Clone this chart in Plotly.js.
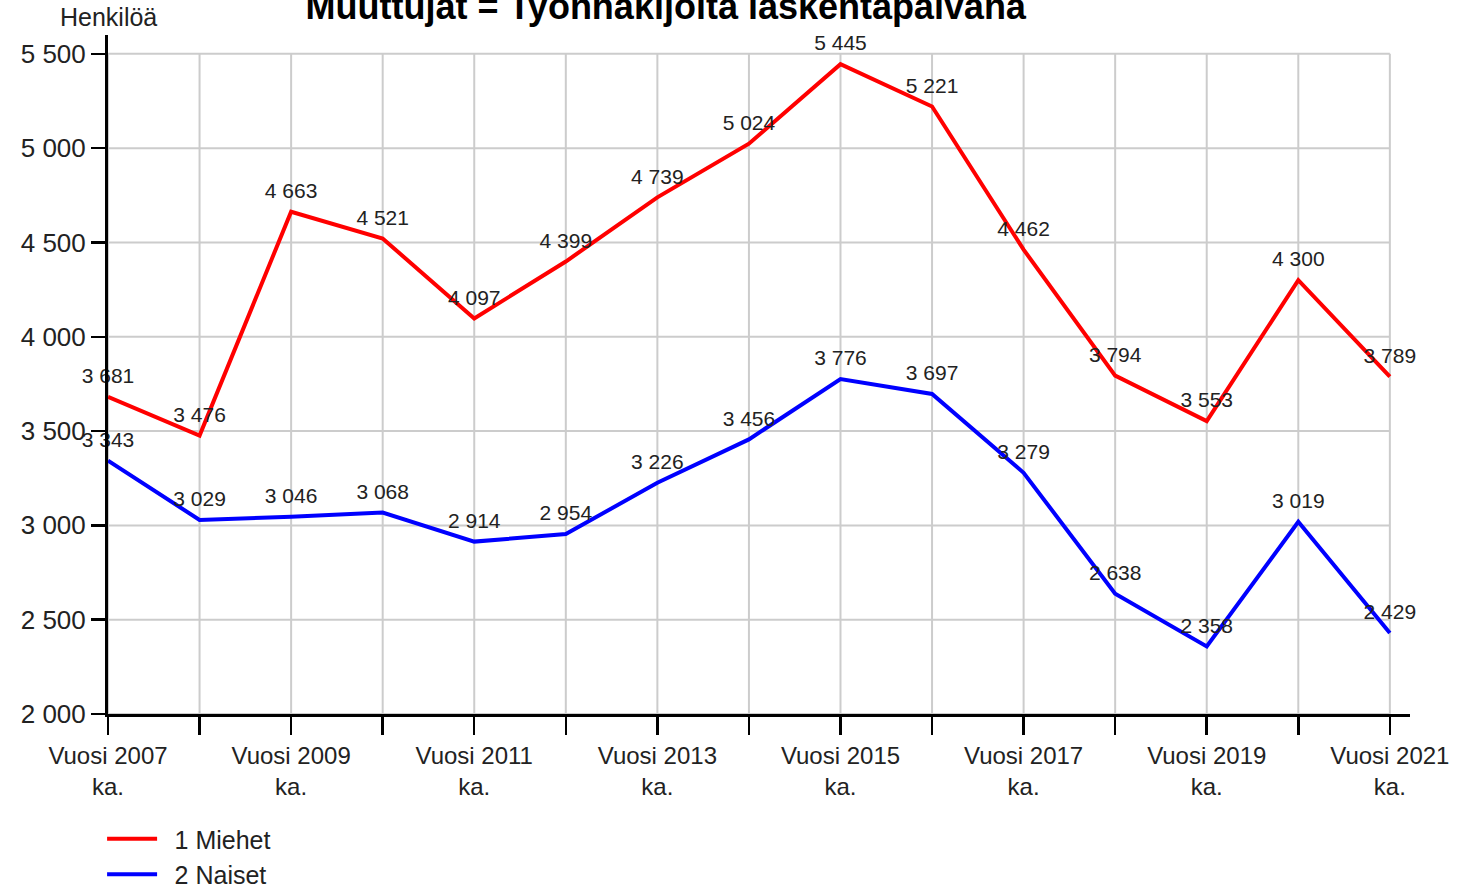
<!DOCTYPE html>
<html>
<head>
<meta charset="utf-8">
<script src="https://cdn.plot.ly/plotly-3.0.1.min.js"></script>
<style>body{margin:0;background:#fff}#chart{width:1478px;height:884px}</style>
</head>
<body>
<div id="chart"></div>
<script>
const years = ["2007","2008","2009","2010","2011","2012","2013","2014","2015","2016","2017","2018","2019","2020","2021"];
const categories = years.map(y => "Vuosi " + y + " ka.");
const tickLabels = years.map((y, i) => i % 2 === 0 ? "Vuosi " + y + "<br>ka." : "");
const miehet = [3681, 3476, 4663, 4521, 4097, 4399, 4739, 5024, 5445, 5221, 4462, 3794, 3553, 4300, 3789];
const naiset = [3343, 3029, 3046, 3068, 2914, 2954, 3226, 3456, 3776, 3697, 3279, 2638, 2358, 3019, 2429];
const seriesNames = ["1 Miehet", "2 Naiset"];
const yTicks = [2000, 2500, 3000, 3500, 4000, 4500, 5000, 5500];
const titleText = "Muuttujat = Työnhakijoita laskentapäivänä";
const yTitle = "Henkilöä";

const fmt = v => String(v).replace(/\B(?=(\d{3})+(?!\d))/g, " ");
const xIdx = categories.map((c, i) => i);
const FONT = "Liberation Sans, Arial, sans-serif";

function trace(vals, name, color) {
  return {
    x: xIdx, y: vals, name: "\u2002" + name, type: "scatter", mode: "lines+markers+text",
    line: {color: color, width: 4},
    marker: {size: 12, color: "rgba(0,0,0,0)", line: {width: 0}},
    text: vals.map(fmt), textposition: "top center",
    textfont: {family: FONT, size: 21, color: "#222"},
    cliponaxis: false, hoverinfo: "y"
  };
}

const data = [trace(miehet, seriesNames[0], "#ff0000"), trace(naiset, seriesNames[1], "#0000ff")];

const gridColor = "#cccccc";
const shapes = [];
yTicks.forEach(v => shapes.push({type: "line", layer: "below", xref: "x", yref: "y", x0: 0, x1: xIdx.length - 1, y0: v, y1: v, line: {color: gridColor, width: 2}}));
xIdx.forEach(i => shapes.push({type: "line", layer: "below", xref: "x", yref: "y", x0: i, x1: i, y0: yTicks[0], y1: yTicks[yTicks.length - 1], line: {color: gridColor, width: 2}}));

const layout = {
  width: 1478, height: 884,
  margin: {l: 108, r: 68, t: 35, b: 170, autoexpand: false},
  paper_bgcolor: "#fff", plot_bgcolor: "#fff",
  font: {family: FONT, color: "#222"},
  title: {text: "<b>" + titleText + "</b>", font: {size: 36, color: "#000", family: FONT}, x: 0.4505, xanchor: "center", y: 0.993, yanchor: "middle", yref: "container"},
  showlegend: true,
  legend: {x: 108 / 1478 - 0.004, xref: "container", xanchor: "left", y: (884 - 816) / 884, yref: "container", yanchor: "top", orientation: "v", font: {size: 25, color: "#222"}, tracegroupgap: 0, itemwidth: 50},
  shapes: shapes,
  xaxis: {
    type: "linear", range: [0, 14.22], automargin: false,
    tickvals: xIdx, ticktext: tickLabels,
    showgrid: false,
    showline: true, linecolor: "#000", linewidth: 3,
    ticks: "outside", ticklen: 18, tickwidth: 2.5, tickcolor: "#000",
    tickfont: {size: 24, color: "#222"}, zeroline: false, fixedrange: true
  },
  yaxis: {
    range: [2000, 5600], automargin: false, tickvals: yTicks,
    ticktext: yTicks.map(fmt),
    showgrid: false,
    showline: true, linecolor: "#000", linewidth: 3,
    ticks: "outside", ticklen: 14, tickwidth: 2.5, tickcolor: "#000",
    tickfont: {size: 26, color: "#222"}, zeroline: false, fixedrange: true
  },
  annotations: [{
    text: yTitle, xref: "paper", yref: "paper", x: 0, y: 1, xanchor: "center", yanchor: "bottom",
    yshift: 2, showarrow: false, font: {size: 25, color: "#222"}
  }]
};

Plotly.newPlot("chart", data, layout, {displayModeBar: false, staticPlot: true});
</script>
</body>
</html>
